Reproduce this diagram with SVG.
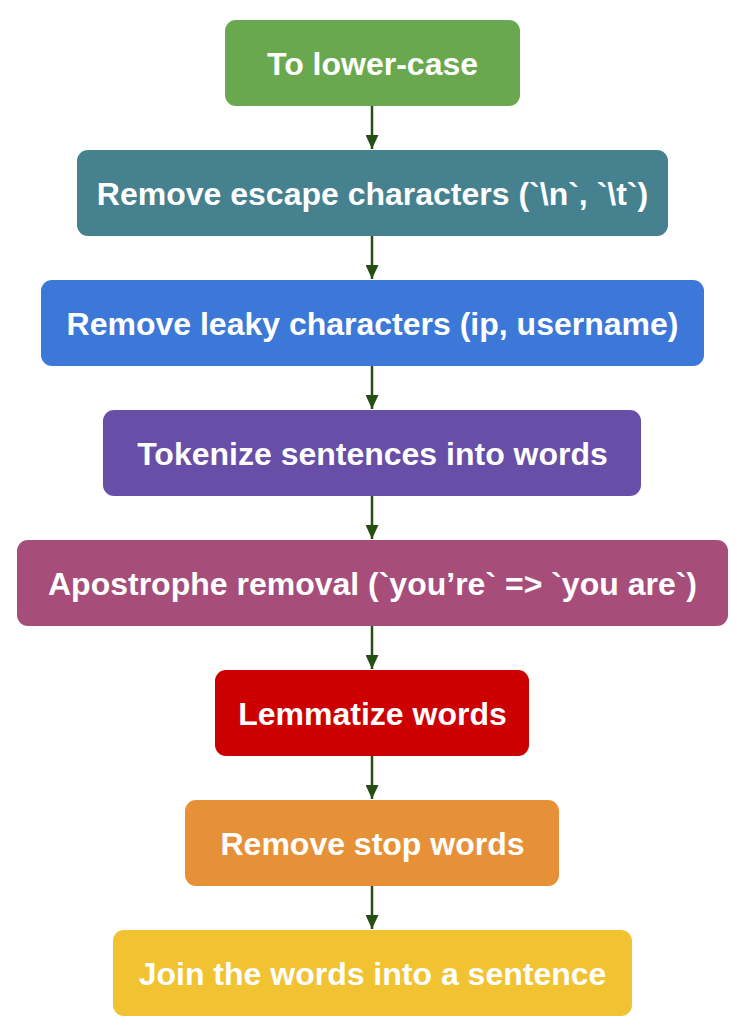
<svg xmlns="http://www.w3.org/2000/svg" width="746" height="1036" viewBox="0 0 746 1036">
<style>
.lbl{font-family:"Liberation Sans",Arial,sans-serif;font-weight:bold;font-size:32px;fill:#ffffff;text-anchor:middle}
.edge{stroke:#274e13;stroke-width:2.5;fill:none}
</style>
<defs>
<marker id="ah" viewBox="0 0 14 13" refX="14" refY="6.5" markerWidth="14" markerHeight="13" markerUnits="userSpaceOnUse" orient="auto">
<path d="M0,0 L14,6.5 L0,13 Z" fill="#274e13"/>
</marker>
</defs>
<rect width="746" height="1036" fill="#ffffff"/>
<g id="connectors">
<line class="edge" x1="372" y1="106" x2="372" y2="149" marker-end="url(#ah)"/>
<line class="edge" x1="372" y1="236" x2="372" y2="279" marker-end="url(#ah)"/>
<line class="edge" x1="372" y1="366" x2="372" y2="409" marker-end="url(#ah)"/>
<line class="edge" x1="372" y1="496" x2="372" y2="539" marker-end="url(#ah)"/>
<line class="edge" x1="372" y1="626" x2="372" y2="669" marker-end="url(#ah)"/>
<line class="edge" x1="372" y1="756" x2="372" y2="799" marker-end="url(#ah)"/>
<line class="edge" x1="372" y1="886" x2="372" y2="929" marker-end="url(#ah)"/>
</g>
<g id="n1"><rect x="225" y="20" width="295" height="86" rx="11" fill="#6aa84f"/><text class="lbl" x="372.5" y="75">To lower-case</text></g>
<g id="n2"><rect x="77" y="150" width="591" height="86" rx="11" fill="#45818e"/><text class="lbl" x="372.5" y="205">Remove escape characters (`\n`, `\t`)</text></g>
<g id="n3"><rect x="41" y="280" width="663" height="86" rx="11" fill="#3c78d8"/><text class="lbl" x="372.5" y="335">Remove leaky characters (ip, username)</text></g>
<g id="n4"><rect x="103" y="410" width="538" height="86" rx="11" fill="#674ea7"/><text class="lbl" x="372.5" y="465">Tokenize sentences into words</text></g>
<g id="n5"><rect x="17" y="540" width="711" height="86" rx="11" fill="#a64d79"/><text class="lbl" x="372.5" y="595">Apostrophe removal (`you’re` =&gt; `you are`)</text></g>
<g id="n6"><rect x="215" y="670" width="314" height="86" rx="11" fill="#cc0000"/><text class="lbl" x="372.5" y="725">Lemmatize words</text></g>
<g id="n7"><rect x="185" y="800" width="374" height="86" rx="11" fill="#e69138"/><text class="lbl" x="372.5" y="855">Remove stop words</text></g>
<g id="n8"><rect x="113" y="930" width="519" height="86" rx="11" fill="#f1c232"/><text class="lbl" x="372.5" y="985">Join the words into a sentence</text></g>
</svg>
